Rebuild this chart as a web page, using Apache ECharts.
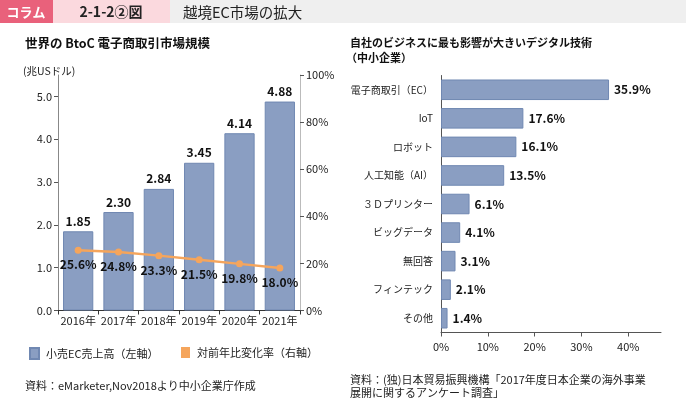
<!DOCTYPE html>
<html><head><meta charset="utf-8">
<script src="https://cdn.jsdelivr.net/npm/echarts@6/dist/echarts.min.js"></script>
<style>html,body{margin:0;padding:0;background:#fff}#c{width:686px;height:398px}</style>
</head><body><div id="c"></div>
<script>
const years = ['2016年','2017年','2018年','2019年','2020年','2021年'];
const sales = [1.85, 2.30, 2.84, 3.45, 4.14, 4.88];
const growth = [25.6, 24.8, 23.3, 21.5, 19.8, 18.0];
const leftTicks = [0, 1, 2, 3, 4, 5];
const techs = ['電子商取引（EC）','IoT','ロボット','人工知能（AI）','３Ｄプリンター','ビッグデータ','無回答','フィンテック','その他'];
const techValues = [35.9, 17.6, 16.1, 13.5, 6.1, 4.1, 3.1, 2.1, 1.4];
const pctTicks = [0, 10, 20, 30, 40];

const FONT = '"Noto Sans CJK JP", sans-serif';
const BLUE = '#8a9ec2';
const BLUE_B = '#7088b2';
const ORANGE = '#f5a55c';

const chart = echarts.init(document.getElementById('c'), null, {renderer:'canvas'});
chart.setOption({
  animation: false,
  textStyle: {fontFamily: FONT},
  graphic: [
    {type:'rect', shape:{x:0,y:0,width:53,height:23}, style:{fill:'#e9617b'}},
    {type:'rect', shape:{x:53,y:0,width:117,height:23}, style:{fill:'#fbd9de'}},
    {type:'rect', shape:{x:170,y:0,width:516,height:23}, style:{fill:'#efefef'}},
    {type:'text', x:26, y:12, style:{text:'コラム', fill:'#fff', font:'bold 13px '+FONT, align:'center', verticalAlign:'middle'}},
    {type:'text', x:111, y:12, style:{text:'2-1-2②図', fill:'#222', font:'bold 14px '+FONT, align:'center', verticalAlign:'middle'}},
    {type:'text', x:183, y:12, style:{text:'越境EC市場の拡大', fill:'#222', font:'14.5px '+FONT, align:'left', verticalAlign:'middle'}},
    {type:'text', x:25, y:43, style:{text:'世界の BtoC 電子商取引市場規模', fill:'#111', font:'bold 12.5px '+FONT, verticalAlign:'middle'}},
    {type:'text', x:23, y:71, style:{text:'(兆USドル)', fill:'#222', font:'10.5px '+FONT, verticalAlign:'middle'}},
    {type:'text', x:350, y:43, style:{text:'自社のビジネスに最も影響が大きいデジタル技術', fill:'#111', font:'bold 11px '+FONT, verticalAlign:'middle'}},
    {type:'text', x:346, y:58, style:{text:'（中小企業）', fill:'#111', font:'bold 11px '+FONT, verticalAlign:'middle'}},
    {type:'text', x:25, y:386, style:{text:'資料：eMarketer,Nov2018より中小企業庁作成', fill:'#222', font:'11px '+FONT, verticalAlign:'middle'}},
    {type:'text', x:350, y:380, style:{text:'資料：(独)日本貿易振興機構「2017年度日本企業の海外事業', fill:'#222', font:'11px '+FONT, verticalAlign:'middle'}},
    {type:'text', x:350, y:393, style:{text:'展開に関するアンケート調査」', fill:'#222', font:'11px '+FONT, verticalAlign:'middle'}}
  ],
  legend: [
    {data:[{name:'小売EC売上高（左軸）', icon:'rect'}], left:24, top:342, itemWidth:9, itemHeight:11,
     textStyle:{fontSize:11, color:'#222', fontFamily:FONT, padding:[0,0,0,2]}, selectedMode:false},
    {data:[{name:'対前年比変化率（右軸）', icon:'rect'}], left:176, top:342, itemWidth:9, itemHeight:11,
     textStyle:{fontSize:11, color:'#222', fontFamily:FONT, padding:[0,0,0,2]}, selectedMode:false}
  ],
  grid: [
    {left:58, right:386, top:75, bottom:87.5},
    {left:441, right:25, top:75.5, bottom:65.5}
  ],
  xAxis: [
    {type:'category', gridIndex:0, data:years, boundaryGap:true,
     axisLine:{lineStyle:{color:'#333'}}, axisTick:{show:true, length:4, lineStyle:{color:'#333'}},
     axisLabel:{fontSize:11, color:'#222', margin:5, interval:0}},
    {type:'value', gridIndex:1, min:0, max:47,
     axisLine:{show:true, lineStyle:{color:'#555'}},
     axisTick:{show:true, length:4, customValues:pctTicks, lineStyle:{color:'#555'}},
     axisLabel:{fontSize:11, color:'#222', margin:9, customValues:pctTicks, formatter: v => v + '%'},
     splitLine:{show:false}}
  ],
  yAxis: [
    {type:'value', gridIndex:0, min:0, max:5.5,
     axisLine:{show:true, lineStyle:{color:'#888'}},
     axisTick:{show:true, length:4, customValues:leftTicks, lineStyle:{color:'#555'}},
     axisLabel:{fontSize:11, color:'#222', margin:6, customValues:leftTicks, formatter: v => v.toFixed(1)},
     splitLine:{show:false}},
    {type:'value', gridIndex:0, min:0, max:100, interval:20, position:'right',
     axisLine:{show:true, lineStyle:{color:'#bbb'}},
     axisTick:{show:true, length:4, lineStyle:{color:'#555'}},
     axisLabel:{fontSize:11, color:'#222', margin:6, formatter:'{value}%'},
     splitLine:{show:false}},
    {type:'category', gridIndex:1, data:techs, inverse:true,
     axisLine:{show:true, lineStyle:{color:'#555'}}, axisTick:{show:false},
     axisLabel:{fontSize:10, color:'#222', margin:8, interval:0}}
  ],
  series: [
    {name:'小売EC売上高（左軸）', type:'bar', xAxisIndex:0, yAxisIndex:0, data:sales, barCategoryGap:'25%',
     itemStyle:{color:BLUE, borderColor:BLUE_B, borderWidth:1},
     label:{show:true, position:'top', distance:4, fontSize:12, fontWeight:'bold', color:'#111', formatter: p => p.value.toFixed(2)}},
    {name:'対前年比変化率（右軸）', type:'line', xAxisIndex:0, yAxisIndex:1, data:growth,
     symbol:'circle', symbolSize:7, lineStyle:{color:ORANGE, width:2.5}, itemStyle:{color:ORANGE},
     label:{show:true, position:'bottom', distance:5, fontSize:12, fontWeight:'bold', color:'#111', formatter: p => p.value.toFixed(1) + '%'}, z:5},
    {name:'tech', type:'bar', xAxisIndex:1, yAxisIndex:2, data:techValues, barCategoryGap:'28%',
     itemStyle:{color:BLUE, borderColor:BLUE_B, borderWidth:1},
     label:{show:true, position:'right', distance:5, fontSize:12, fontWeight:'bold', color:'#111', formatter: p => p.value.toFixed(1) + '%'}}
  ]
});
</script></body></html>
